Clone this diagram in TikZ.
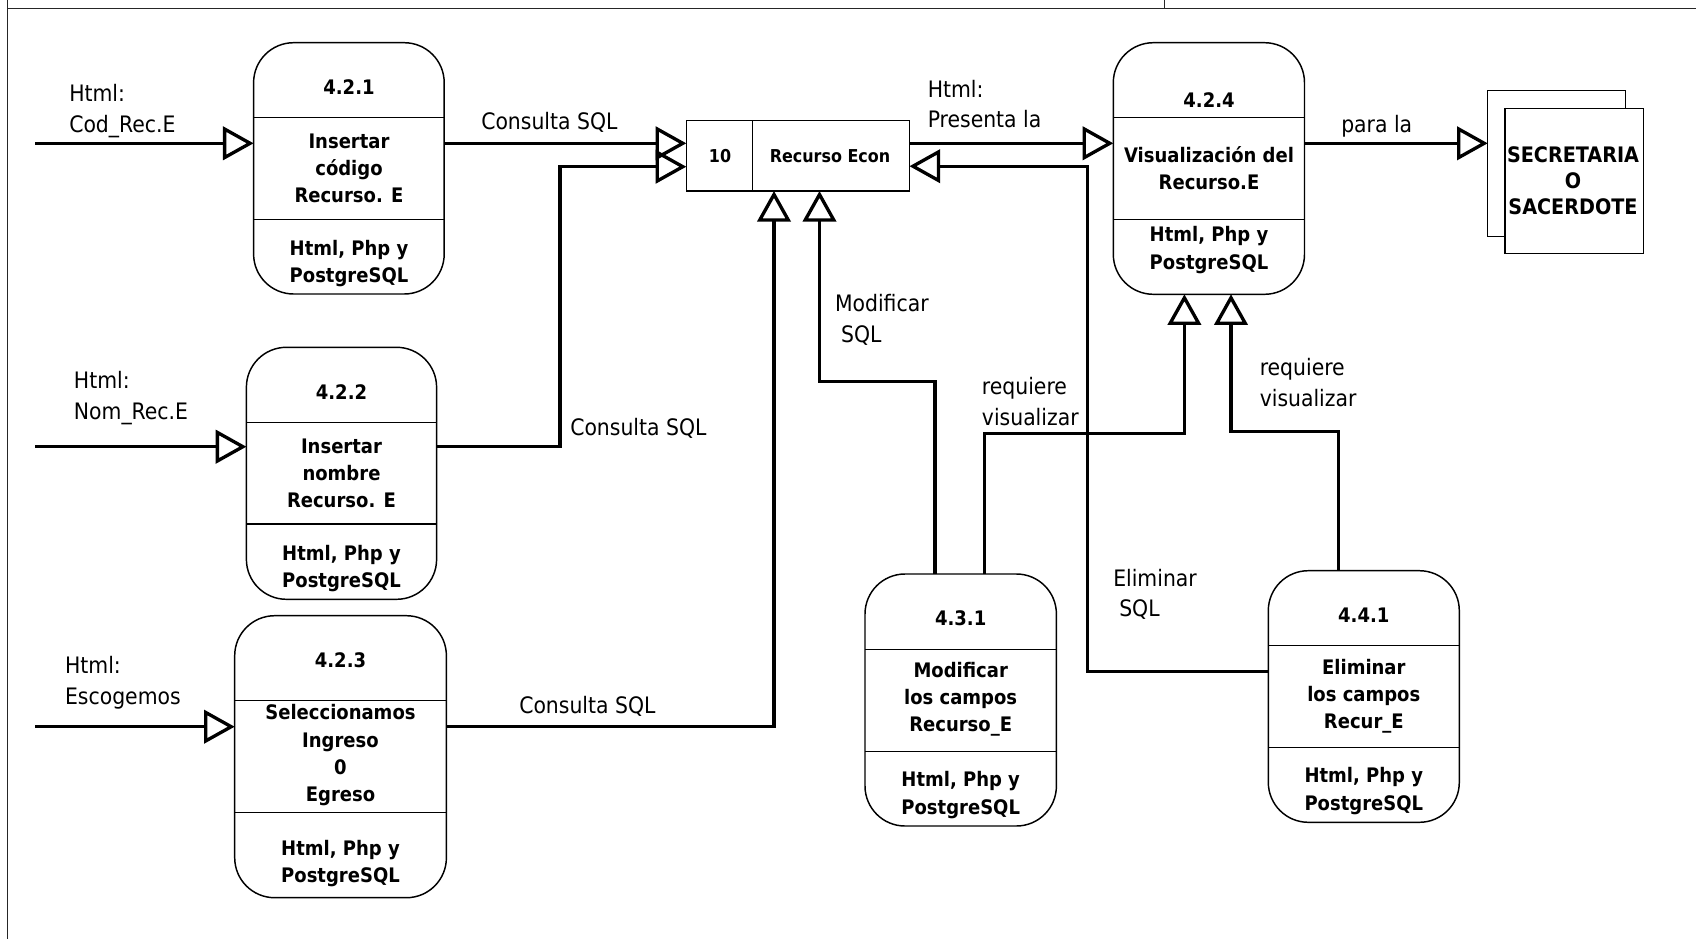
\documentclass[tikz,border=0pt]{standalone}
\usepackage{fontspec}
\setmainfont{DejaVu Sans Condensed}
\usetikzlibrary{arrows.meta,calc}
\newcommand\lblfont{\fontsize{17}{23}\selectfont}
\newcommand\bxfont{\bfseries\fontsize{15}{20.5}\selectfont}
\newcommand\entfont{\bfseries\fontsize{16}{19.5}\selectfont}
\newcommand\stfont{\bfseries\fontsize{13.3}{15}\selectfont}
\newcommand\procnode[5]{%
  \node[proc, minimum width={(#4-#2)*0.75pt}, minimum height={(#5-#3)*0.75pt}] (#1) at ({(#2+#4)/2},{(#3+#5)/2}) {};}
\newcommand\plainnode[6]{%
  \node[#6, minimum width={(#4-#2)*0.75pt}, minimum height={(#5-#3)*0.75pt}] (#1) at ({(#2+#4)/2},{(#3+#5)/2}) {};}
\begin{document}
\begin{tikzpicture}[x=0.75pt,y=-0.75pt,
  proc/.style={draw, line width=1.1pt, rounded corners=30pt, inner sep=0pt, outer sep=0pt},
  sq/.style={draw, line width=1.1pt, fill=white, inner sep=0pt, outer sep=0pt},
  divl/.style={line width=1.1pt},
  btxt/.style={font=\bxfont, align=center, inner sep=0pt},
  etxt/.style={font=\entfont, align=center, inner sep=0pt},
  stxt/.style={font=\stfont, align=center, inner sep=0pt},
  lbl/.style={font=\lblfont, align=left, anchor=west, inner sep=0pt},
  flow/.style={line width=2.5pt, -{Triangle[open, length=23pt, width=25pt]}},
  frame/.style={line width=1.3pt, black!85}]
\useasboundingbox (0,0) rectangle (1696,939);

% frame
\draw[frame] (7.5,0) -- (7.5,939);
\draw[frame] (7.5,8.5) -- (1696,8.5);
\draw[frame] (1164.5,0) -- (1164.5,8.5);

% process boxes
\procnode{p421}{253.6}{42.7}{444.2}{294}
\draw[divl] (p421.west |- 0,117.7) -- (p421.east |- 0,117.7);
\draw[divl] (p421.west |- 0,219.3) -- (p421.east |- 0,219.3);
\node[btxt] (p421n) at (349,86.7) {4.2.1};
\node[btxt] (p421t) at (349,168.5) {Insertar\\código\\Recurso. E};
\node[btxt] (p421s) at (349,263.3) {Html, Php y\\PostgreSQL};

\procnode{p422}{246.4}{347.3}{436.6}{599.3}
\draw[divl] (p422.west |- 0,422.7) -- (p422.east |- 0,422.7);
\draw[divl] (p422.west |- 0,524) -- (p422.east |- 0,524);
\node[btxt] (p422n) at (341.5,391.7) {4.2.2};
\node[btxt] (p422t) at (341.5,473.3) {Insertar\\nombre\\Recurso. E};
\node[btxt] (p422s) at (341.5,568.3) {Html, Php y\\PostgreSQL};

\procnode{p423}{234.7}{615.7}{446.4}{897.7}
\draw[divl] (p423.west |- 0,700.7) -- (p423.east |- 0,700.7);
\draw[divl] (p423.west |- 0,812.3) -- (p423.east |- 0,812.3);
\node[btxt] (p423n) at (340.5,660) {4.2.3};
\node[btxt] (p423t) at (340.5,755.5) {Seleccionamos\\Ingreso\\0\\Egreso};
\node[btxt] (p423s) at (340.5,863.3) {Html, Php y\\PostgreSQL};

\procnode{p424}{1113.3}{42.7}{1304.5}{294.3}
\draw[divl] (p424.west |- 0,117.7) -- (p424.east |- 0,117.7);
\draw[divl] (p424.west |- 0,219.3) -- (p424.east |- 0,219.3);
\node[btxt] (p424n) at (1209,100) {4.2.4};
\node[btxt] (p424t) at (1209,168) {Visualización del\\Recurso.E};
\node[btxt] (p424s) at (1209,250) {Html, Php y\\PostgreSQL};

\procnode{p431}{865}{574}{1056.4}{826}
\draw[divl] (p431.west |- 0,649.3) -- (p431.east |- 0,649.3);
\draw[divl] (p431.west |- 0,751.7) -- (p431.east |- 0,751.7);
\node[btxt] (p431n) at (960.7,618.3) {4.3.1};
\node[btxt] (p431t) at (960.7,699.3) {Modificar\\los campos\\Recurso\_E};
\node[btxt] (p431s) at (960.7,795) {Html, Php y\\PostgreSQL};

\procnode{p441}{1268.3}{570.7}{1459.3}{822.3}
\draw[divl] (p441.west |- 0,645.7) -- (p441.east |- 0,645.7);
\draw[divl] (p441.west |- 0,747.7) -- (p441.east |- 0,747.7);
\node[btxt] (p441n) at (1363.8,615) {4.4.1};
\node[btxt] (p441t) at (1363.8,696.3) {Eliminar\\los campos\\Recur\_E};
\node[btxt] (p441s) at (1363.8,791.2) {Html, Php y\\PostgreSQL};

% data store
\plainnode{st}{686.3}{120.7}{909.5}{191}{sq}
\draw[divl] (752.6,120.7) -- (752.6,191);
\node[stxt] (stn) at (720,156.3) {10};
\node[stxt] (stt) at (830,156.3) {Recurso Econ};

% external entity
\plainnode{ent2}{1487.7}{90.7}{1625.3}{236.7}{sq}
\plainnode{ent}{1504.8}{108.3}{1643.5}{253.3}{sq}
\node[etxt] (entt) at (1573,180.6) {SECRETARIA\\O\\SACERDOTE};

% inputs
\coordinate (i1) at (35,143.3);
\coordinate (i2) at (35,446.7);
\coordinate (i3) at (35,726.7);
\draw[flow] (i1) -- (p421.west |- i1);
\draw[flow] (i2) -- (p422.west |- i2);
\draw[flow] (i3) -- (p423.west |- i3);

% flows to store
\draw[flow] (p421.east |- 0,143.3) -- (st.west |- 0,143.3);
\draw[flow] (p422.east |- 0,446.7) -- (560,446.7) -- (560,166.7) -- (st.west |- 0,166.7);
\draw[flow] (p423.east |- 0,726.7) -- (774,726.7) -- (st.south -| 774,0);
\draw[flow] (p431.north -| 935,0) -- (935,381.7) -- (819.5,381.7) -- (st.south -| 819.5,0);
\draw[flow] (p441.west |- 0,671.7) -- (1087.6,671.7) -- (1087.6,166.2) -- (st.east |- 0,166.2);

% flows to 4.2.4 and entity
\draw[flow] (st.east |- 0,143.3) -- (p424.west |- 0,143.3);
\draw[flow] (p431.north -| 984.2,0) -- (984.2,433.3) -- (1184.4,433.3) -- (p424.south -| 1184.4,0);
\draw[flow] (p441.north -| 1338.4,0) -- (1338.4,431.7) -- (1231,431.7) -- (p424.south -| 1231,0);
\draw[flow] (p424.east |- 0,143.3) -- (ent2.west |- 0,143.3);

% labels
\node[lbl] (l1) at (69,111) {Html:\\Cod\_Rec.E};
\node[lbl] (l2) at (481,122.7) {Consulta SQL};
\node[lbl] (l3) at (73.7,398.3) {Html:\\Nom\_Rec.E};
\node[lbl] (l4) at (570,428.3) {Consulta SQL};
\node[lbl] (l5) at (64.8,682.5) {Html:\\Escogemos};
\node[lbl] (l6) at (519,706.7) {Consulta SQL};
\node[lbl] (l7) at (927.5,104) {Html:\\Presenta la};
\node[lbl] (l8) at (1341,126.7) {para la};
\node[lbl] (l9) at (834.8,320) {Modificar\\\hspace{4.5pt}SQL};
\node[lbl] (l10) at (981.7,401.7) {requiere\\visualizar};
\node[lbl] (l11) at (1259.5,382.5) {requiere\\visualizar};
\node[lbl] (l12) at (1113,594.2) {Eliminar\\\hspace{4.5pt}SQL};
\end{tikzpicture}
\end{document}
